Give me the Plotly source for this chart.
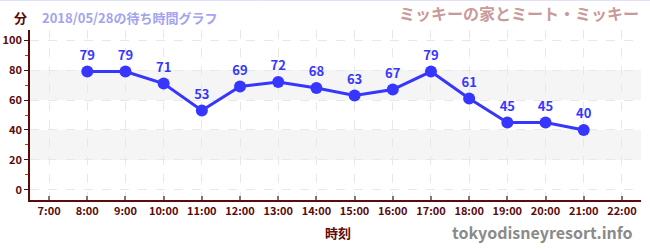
import plotly.graph_objects as go

hours = [8, 9, 10, 11, 12, 13, 14, 15, 16, 17, 18, 19, 20, 21]
waits = [79, 79, 71, 53, 69, 72, 68, 63, 67, 79, 61, 45, 45, 40]
tick_hours = list(range(7, 23))
tick_labels = [f"{h}:00" for h in tick_hours]
title_unit = "分"
subtitle = "2018/05/28の待ち時間グラフ"
attraction = "ミッキーの家とミート・ミッキー"
x_title = "時刻"
watermark = "tokyodisneyresort.info"

FONT = "Noto Sans CJK JP"
MAROON = "#5c0a0a"
BLUE = "#3636ff"

W, H = 650, 250
ML, MR, MT, MB = 30, 9, 30, 50
PH = H - MT - MB
PW = W - ML - MR

fig = go.Figure()
fig.add_trace(go.Scatter(
    x=hours, y=waits, mode="lines+markers+text",
    line=dict(color=BLUE, width=3),
    marker=dict(color=BLUE, size=12),
    text=[str(v) for v in waits], textposition="top center",
    textfont=dict(family=FONT, size=13, color=BLUE, weight="bold"),
    cliponaxis=False, hoverinfo="skip", showlegend=False,
))

shapes = []
for lo, hi in [(20, 40), (60, 80)]:
    shapes.append(dict(type="rect", xref="paper", yref="y", x0=0, x1=1, y0=lo, y1=hi,
                       fillcolor="#f5f5f5", line=dict(width=0), layer="below"))
top_y = 1 + (MT - 0.5) / PH
shapes.append(dict(type="line", xref="paper", yref="paper",
                   x0=-ML / PW, x1=1 + MR / PW, y0=top_y, y1=top_y,
                   line=dict(color="#e0e0fa", width=1)))

def px_to_paper_x(px):
    return (px - ML) / PW

def px_to_paper_y(py):
    return 1 - (py - MT) / PH

annotations = [
    dict(text=f"<b>{title_unit}</b>", x=px_to_paper_x(20), y=px_to_paper_y(17),
         xref="paper", yref="paper", showarrow=False, xanchor="center", yanchor="middle",
         font=dict(family=FONT, size=13, color=MAROON)),
    dict(text=subtitle, x=px_to_paper_x(40), y=px_to_paper_y(17),
         xref="paper", yref="paper", showarrow=False, xanchor="left", yanchor="middle",
         font=dict(family=FONT, size=13, color="#a3a3ee", weight="bold")),
    dict(text=attraction, x=px_to_paper_x(641), y=px_to_paper_y(13),
         xref="paper", yref="paper", showarrow=False, xanchor="right", yanchor="middle",
         font=dict(family=FONT, size=16, color="#c99a9a", weight="bold")),
    dict(text=f"<b>{x_title}</b>", x=px_to_paper_x(338), y=px_to_paper_y(232),
         xref="paper", yref="paper", showarrow=False, xanchor="center", yanchor="middle",
         font=dict(family=FONT, size=13, color=MAROON)),
    dict(text=watermark, x=px_to_paper_x(635), y=px_to_paper_y(232),
         xref="paper", yref="paper", showarrow=False, xanchor="right", yanchor="middle",
         font=dict(family=FONT, size=16, color="#8a8a8a", weight="bold")),
]

fig.update_layout(
    width=W, height=H,
    margin=dict(l=ML, r=MR, t=MT, b=MB, pad=0, autoexpand=False),
    paper_bgcolor="white", plot_bgcolor="white",
    shapes=shapes, annotations=annotations,
    xaxis=dict(range=[6.5, 22.5], tickvals=tick_hours, ticktext=tick_labels,
               showgrid=True, gridcolor="#e8e8e8", griddash="dash", gridwidth=1,
               showline=True, linecolor=MAROON, linewidth=1.5,
               ticks="inside", ticklen=4, tickcolor="#777", tickwidth=1.5,
               tickfont=dict(family=FONT, size=11, color=MAROON, weight="bold"),
               zeroline=False, fixedrange=True, automargin=False),
    yaxis=dict(range=[-6.7, 106.7], tickvals=[0, 20, 40, 60, 80, 100],
               showgrid=True, gridcolor="#e8e8e8", griddash="dash", gridwidth=1,
               showline=True, linecolor=MAROON, linewidth=1.5,
               ticks="outside", ticklen=4, tickcolor="#222", tickwidth=1,
               minor=dict(tickvals=[10, 30, 50, 70, 90], ticks="outside", ticklen=3,
                          tickcolor="#dd2222", showgrid=False),
               tickfont=dict(family=FONT, size=11, color=MAROON, weight="bold"),
               zeroline=False, fixedrange=True, automargin=False),
)

fig.write_html("out.html")
